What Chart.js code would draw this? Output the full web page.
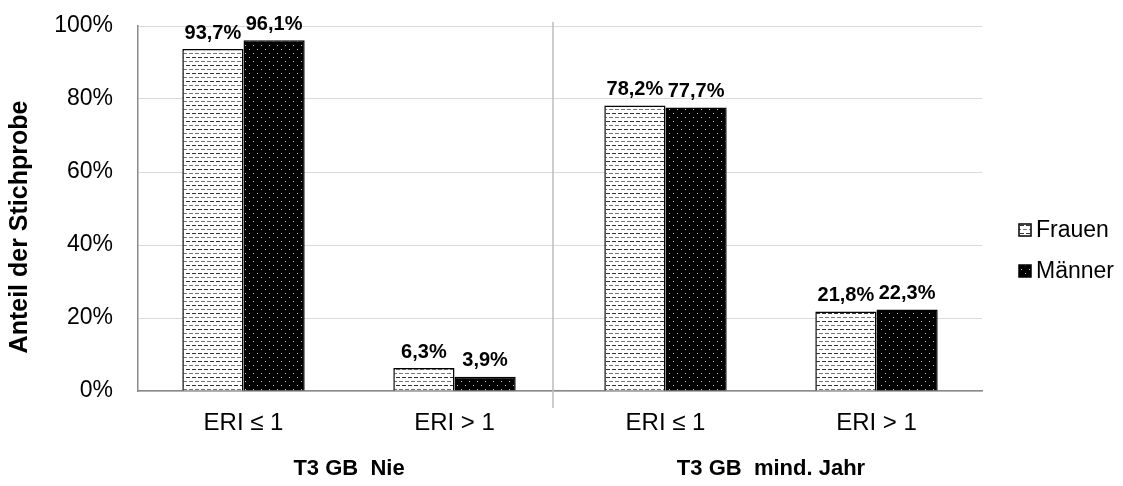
<!DOCTYPE html>
<html><head><meta charset="utf-8">
<script src="https://cdn.jsdelivr.net/npm/chart.js@4.4.1/dist/chart.umd.min.js"></script>
<style>html,body{margin:0;padding:0;background:#fff}#wrap{width:1123px;height:486px}</style>
</head><body><div id="wrap"><canvas id="c" width="1123" height="486"></canvas></div>
<script>
// Kategorien, Gruppen und Werte (Anteil in %)
const categories = ['ERI ≤ 1', 'ERI > 1', 'ERI ≤ 1', 'ERI > 1'];
const groupLabels = ['T3 GB  Nie', 'T3 GB  mind. Jahr'];
const seriesNames = ['Frauen', 'Männer'];
const frauen = [93.7, 6.3, 78.2, 21.8];
const maenner = [96.1, 3.9, 77.7, 22.3];
const yTickStep = 20;
const yTitle = 'Anteil der Stichprobe';

const FONT = '"Liberation Sans", Arial, sans-serif';

// Schraffur: weiß mit kurzen Strichen (Frauen)
function dashPattern() {
  const t = document.createElement('canvas');
  t.width = 6; t.height = 8;
  const g = t.getContext('2d');
  g.fillStyle = '#fff'; g.fillRect(0, 0, 6, 8);
  g.fillStyle = '#333'; g.fillRect(0, 1, 4, 1);
  g.fillStyle = '#777'; g.fillRect(3, 5, 3, 1); g.fillRect(0, 5, 1, 1);
  return document.getElementById('c').getContext('2d').createPattern(t, 'repeat');
}
// Punktraster: schwarz mit hellen Punkten (Männer)
function dotPattern() {
  const t = document.createElement('canvas');
  t.width = 8; t.height = 8;
  const g = t.getContext('2d');
  g.fillStyle = '#000'; g.fillRect(0, 0, 8, 8);
  g.fillStyle = '#c8c8c8'; g.fillRect(1, 1, 1, 1); g.fillRect(5, 5, 1, 1);
  return document.getElementById('c').getContext('2d').createPattern(t, 'repeat');
}
const fillF = dashPattern();
const fillM = dotPattern();
const fmt = v => v.toFixed(1).replace('.', ',') + '%';

// Wertbeschriftungen über den Balken
const valueLabels = {
  id: 'valueLabels',
  afterDatasetsDraw(chart) {
    const ctx = chart.ctx;
    ctx.save();
    ctx.font = 'bold 20px ' + FONT;
    ctx.fillStyle = '#000';
    ctx.textAlign = 'center';
    ctx.textBaseline = 'middle';
    chart.data.datasets.forEach((ds, i) => {
      chart.getDatasetMeta(i).data.forEach((bar, j) => {
        ctx.fillText(fmt(ds.data[j]), bar.x, bar.y - 16);
      });
    });
    ctx.restore();
  }
};

// Trennlinie, Gruppenbeschriftung, Achsentitel und Legende
const decorations = {
  id: 'decorations',
  afterDraw(chart) {
    const ctx = chart.ctx;
    const x = chart.scales.x;
    const area = chart.chartArea;
    ctx.save();
    const sep = (x.getPixelForValue(1) + x.getPixelForValue(2)) / 2 - 7;
    ctx.strokeStyle = '#bdbdbd';
    ctx.lineWidth = 1.5;
    ctx.beginPath();
    ctx.moveTo(sep, area.top - 4);
    ctx.lineTo(sep, area.bottom + 17);
    ctx.stroke();

    ctx.font = 'bold 22px ' + FONT;
    ctx.fillStyle = '#000';
    ctx.textAlign = 'center';
    ctx.textBaseline = 'middle';
    for (let g = 0; g < groupLabels.length; g++) {
      const cx = (x.getPixelForValue(g * 2) + x.getPixelForValue(g * 2 + 1)) / 2;
      ctx.fillText(groupLabels[g], cx, 469);
    }

    // senkrechter Achsentitel
    ctx.save();
    ctx.translate(20, 227);
    ctx.rotate(-Math.PI / 2);
    ctx.font = 'bold 25px ' + FONT;
    ctx.fillText(yTitle, 0, 0);
    ctx.restore();

    const fills = [fillF, fillM];
    ctx.font = '23px ' + FONT;
    ctx.textAlign = 'left';
    seriesNames.forEach((name, i) => {
      const cy = 230 + i * 41;
      ctx.fillStyle = fills[i];
      ctx.fillRect(1019, cy - 6, 12, 12);
      ctx.strokeStyle = '#000';
      ctx.lineWidth = 1.5;
      ctx.strokeRect(1019, cy - 6, 12, 12);
      ctx.fillStyle = '#000';
      ctx.fillText(name, 1036, cy + 1);
    });
    ctx.restore();
  }
};

new Chart(document.getElementById('c'), {
  type: 'bar',
  data: {
    labels: categories,
    datasets: [
      { label: seriesNames[0], data: frauen, backgroundColor: fillF, borderColor: '#000', borderWidth: 1.5 },
      { label: seriesNames[1], data: maenner, backgroundColor: fillM, borderColor: '#000', borderWidth: 1.5 }
    ]
  },
  options: {
    responsive: false,
    animation: false,
    events: [],
    categoryPercentage: 0.58,
    barPercentage: 1.0,
    layout: { padding: { top: 26, right: 141, left: 0, bottom: 0 } },
    plugins: { legend: { display: false }, tooltip: { enabled: false } },
    scales: {
      x: {
        grid: { display: false, drawTicks: false },
        border: { display: true, color: '#8a8a8a', width: 1.5 },
        ticks: { font: { family: FONT, size: 24 }, color: '#000', padding: 18 },
        afterFit(s) { s.height = 95; s.paddingLeft = 0; s.paddingRight = 0; }
      },
      y: {
        min: 0, max: 100,
        ticks: { stepSize: yTickStep, callback: v => v + '%', font: { family: FONT, size: 23 }, color: '#000', padding: 25 },
        grid: { color: '#d9d9d9', lineWidth: 1, drawTicks: false },
        border: { display: true, color: '#8a8a8a', width: 1.5 },
        afterFit(s) { s.width = 138; s.paddingTop = 0; s.paddingBottom = 0; }
      }
    }
  },
  plugins: [valueLabels, decorations]
});
</script></body></html>
